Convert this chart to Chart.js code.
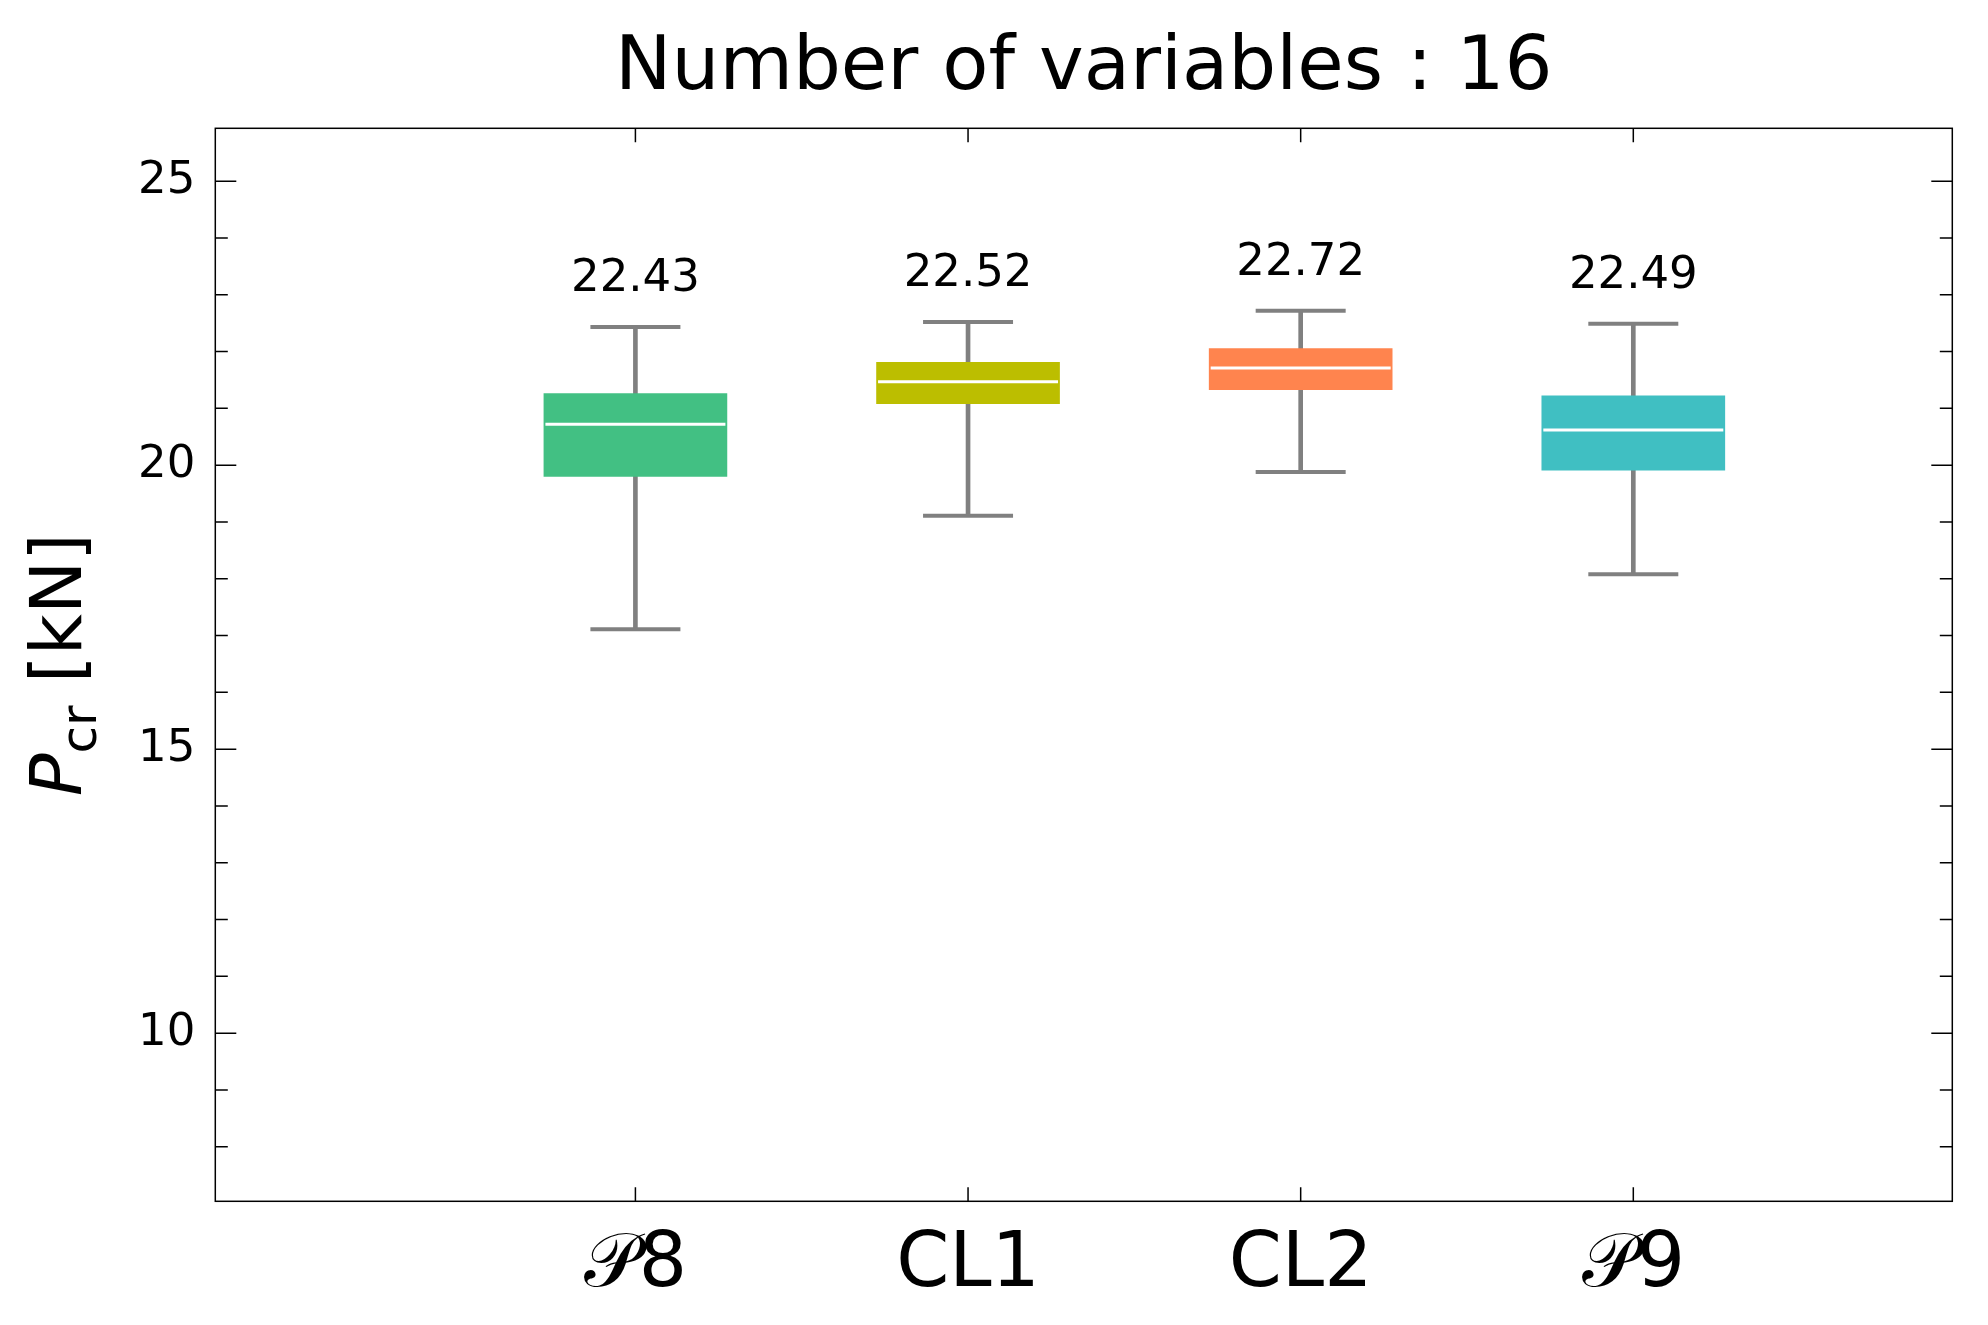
<!DOCTYPE html>
<html>
<head>
<meta charset="utf-8">
<script src="https://cdn.jsdelivr.net/npm/chart.js@4/dist/chart.umd.min.js"></script>
<style>
html,body{margin:0;padding:0;background:#ffffff;}
canvas{display:block;}
</style>
</head>
<body>
<canvas id="chart" width="1988" height="1325"></canvas>
<script>
// ---------------- data ----------------
const titleText = 'Number of variables : 16';
const categories = ['𝒫8', 'CL1', 'CL2', '𝒫9'];
const positions = [1, 2, 3, 4];
const whiskerLow = [17.11, 19.11, 19.88, 18.08];
const q1 = [19.80, 21.08, 21.33, 19.91];
const medians = [20.72, 21.47, 21.71, 20.62];
const q3 = [21.26, 21.81, 22.05, 21.22];
const whiskerHigh = [22.43, 22.52, 22.72, 22.49];
const topLabels = ['22.43', '22.52', '22.72', '22.49'];
const boxColors = ['#42c083', '#bcbe00', '#ff844e', '#40bfc2'];
const yMajorTicks = [10, 15, 20, 25];
const yMinorTicks = [8, 9, 11, 12, 13, 14, 16, 17, 18, 19, 21, 22, 23, 24];
const yRange = [7.04, 25.93];
const xRange = [-0.263, 4.959];

// ---------------- layout constants ----------------
const FONT = "'DejaVu Sans', sans-serif";
const AREA = {left: 215.3, right: 1952.3, top: 128.3, bottom: 1201.3};
const W = 1988, H = 1325;

const frameAndTicks = {
  id: 'frameAndTicks',
  afterDatasetsDraw(chart) {
    const ctx = chart.ctx;
    const a = chart.chartArea;
    const xs = chart.scales.x, ys = chart.scales.y;
    ctx.save();
    ctx.strokeStyle = '#000';
    ctx.lineWidth = 1.5;
    ctx.beginPath();
    const tick = (x1, y1, x2, y2) => { ctx.moveTo(x1, y1); ctx.lineTo(x2, y2); };
    yMajorTicks.forEach(v => {
      const y = ys.getPixelForValue(v);
      tick(a.left, y, a.left + 21, y);
      tick(a.right, y, a.right - 21, y);
    });
    yMinorTicks.forEach(v => {
      const y = ys.getPixelForValue(v);
      tick(a.left, y, a.left + 12.5, y);
      tick(a.right, y, a.right - 12.5, y);
    });
    positions.forEach(v => {
      const x = xs.getPixelForValue(v);
      tick(x, a.bottom, x, a.bottom - 14);
      tick(x, a.top, x, a.top + 14);
    });
    ctx.stroke();
    ctx.strokeRect(a.left, a.top, a.right - a.left, a.bottom - a.top);

    // title, centred over the plot area
    ctx.fillStyle = '#000';
    ctx.font = '75.5px ' + FONT;
    ctx.textAlign = 'center';
    ctx.textBaseline = 'alphabetic';
    ctx.fillText(titleText, (a.left + a.right) / 2, 89.3);

    // labels above the whiskers
    ctx.font = '45px ' + FONT;
    positions.forEach((p, i) => {
      ctx.fillText(topLabels[i], xs.getPixelForValue(p), ys.getPixelForValue(whiskerHigh[i]) - 36);
    });

    // y-axis label: P_cr [kN]
    const F = 71;
    const cy = (a.top + a.bottom) / 2;
    ctx.translate(81, cy);
    ctx.rotate(-Math.PI / 2);
    ctx.textAlign = 'left';
    const partP = 'P', partSub = 'cr', partRest = ' [kN]';
    ctx.font = 'oblique ' + F + 'px ' + FONT;
    const wP = ctx.measureText(partP).width;
    ctx.font = Math.round(F * 0.7) + 'px ' + FONT;
    const wS = ctx.measureText(partSub).width;
    ctx.font = F + 'px ' + FONT;
    const wR = ctx.measureText(partRest).width;
    let x0 = -(wP + wS + wR) / 2;
    ctx.font = 'oblique ' + F + 'px ' + FONT;
    ctx.fillText(partP, x0, 0);
    ctx.font = Math.round(F * 0.7) + 'px ' + FONT;
    ctx.fillText(partSub, x0 + wP, 15);
    ctx.font = F + 'px ' + FONT;
    ctx.fillText(partRest, x0 + wP + wS, 0);
    ctx.restore();
  }
};

const ctx = document.getElementById('chart').getContext('2d');
new Chart(ctx, {
  type: 'bar',
  data: {
    datasets: [
      {
        label: 'whiskers',
        type: 'bar',
        data: positions.map((x, i) => ({x: x, y: [whiskerLow[i], whiskerHigh[i]]})),
        backgroundColor: '#808080',
        barThickness: 4,
        grouped: false,
        borderWidth: 0,
        order: 4
      },
      {
        label: 'boxes',
        type: 'bar',
        data: positions.map((x, i) => ({x: x, y: [q1[i], q3[i]]})),
        backgroundColor: boxColors,
        barThickness: 183,
        grouped: false,
        borderWidth: 0,
        order: 3
      },
      {
        label: 'caps',
        type: 'line',
        showLine: false,
        data: positions.map((x, i) => ({x: x, y: whiskerLow[i]}))
          .concat(positions.map((x, i) => ({x: x, y: whiskerHigh[i]}))),
        pointStyle: 'line',
        pointRadius: 45,
        pointHoverRadius: 45,
        pointBorderColor: '#808080',
        pointBorderWidth: 4,
        order: 2
      },
      {
        label: 'medians',
        type: 'line',
        showLine: false,
        data: positions.map((x, i) => ({x: x, y: medians[i]})),
        pointStyle: 'line',
        pointRadius: 90,
        pointHoverRadius: 90,
        pointBorderColor: '#ffffff',
        pointBorderWidth: 3,
        order: 1
      }
    ]
  },
  options: {
    responsive: false,
    devicePixelRatio: 1,
    animation: false,
    events: [],
    layout: {autoPadding: false, padding: {left: 0, right: W - AREA.right, top: AREA.top, bottom: 0}},
    scales: {
      x: {
        type: 'linear',
        min: xRange[0],
        max: xRange[1],
        offset: false,
        grid: {display: false, drawTicks: false},
        border: {display: false},
        afterBuildTicks: s => { s.ticks = positions.map(v => ({value: v})); },
        afterFit: s => { s.height = H - AREA.bottom; s.paddingLeft = 0; s.paddingRight = 0; },
        ticks: {
          autoSkip: false,
          maxRotation: 0,
          padding: 19.5,
          color: '#000',
          font: {family: FONT, size: 76, lineHeight: 1.2},
          callback: v => categories[positions.indexOf(v)]
        }
      },
      y: {
        type: 'linear',
        min: yRange[0],
        max: yRange[1],
        grid: {display: false, drawTicks: false},
        border: {display: false},
        afterBuildTicks: s => { s.ticks = yMajorTicks.map(v => ({value: v})); },
        afterFit: s => { s.width = AREA.left; s.paddingTop = 0; s.paddingBottom = 0; },
        ticks: {
          padding: 20,
          color: '#000',
          font: {family: FONT, size: 45},
          callback: v => String(v)
        }
      }
    },
    plugins: {
      legend: {display: false},
      tooltip: {enabled: false},
      title: {display: false}
    }
  },
  plugins: [frameAndTicks]
});
</script>
</body>
</html>
